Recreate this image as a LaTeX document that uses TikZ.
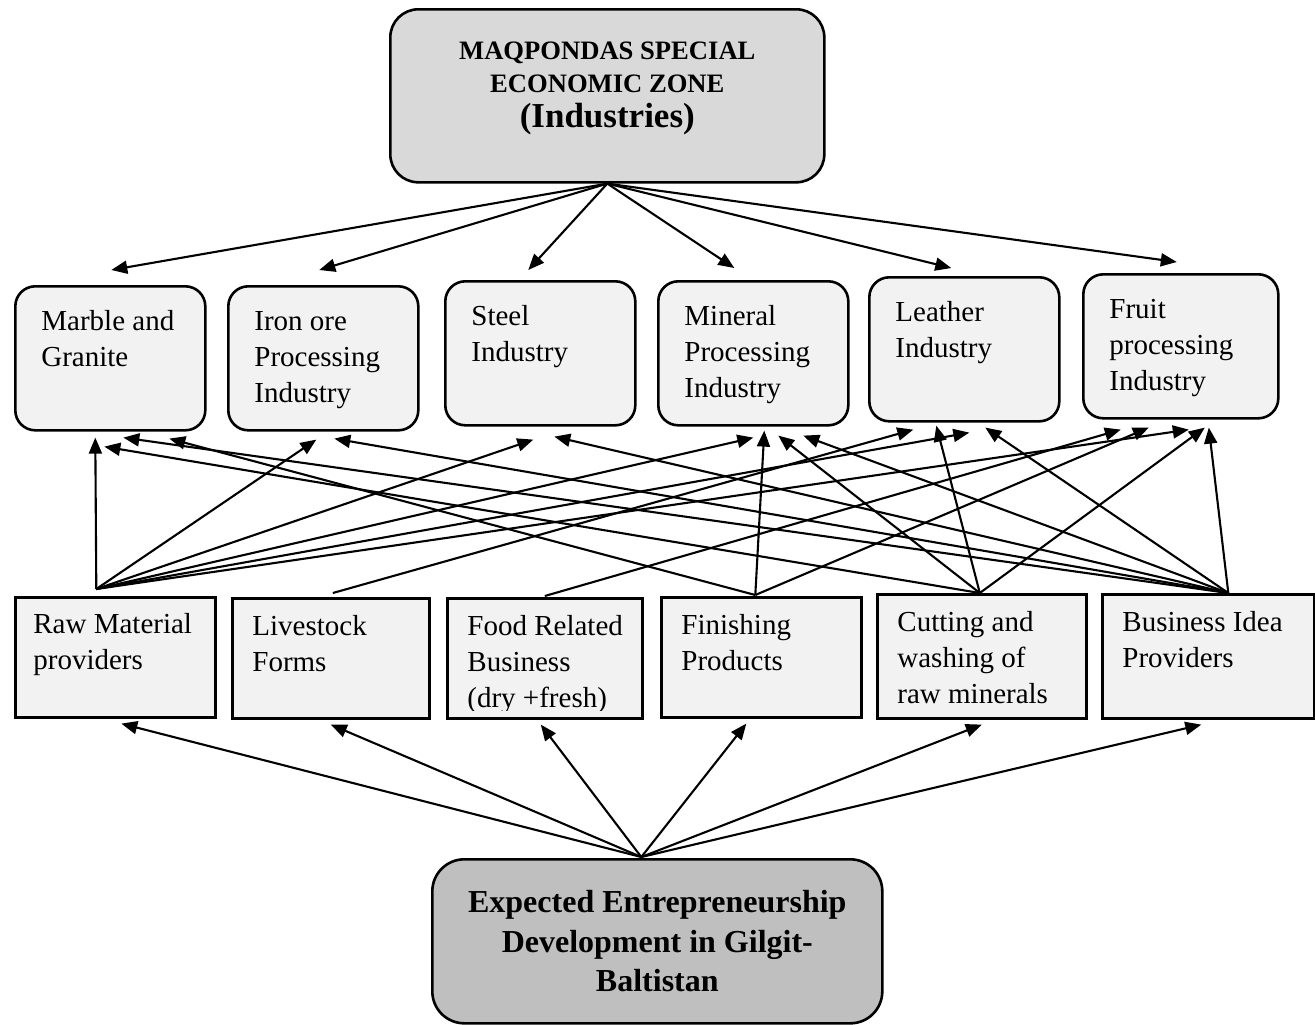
\documentclass[tikz,border=0pt]{standalone}
\usepackage{fontspec}
\setmainfont{Liberation Serif}
\usetikzlibrary{arrows.meta}

\tikzset{
  zone/.style={draw, line width=1.3pt, rounded corners=14pt, fill=black!15, anchor=north west, inner sep=0pt},
  industry/.style={draw, line width=1.3pt, rounded corners=10pt, fill=black!5, anchor=north west, inner sep=0pt, minimum width=95pt, minimum height=72pt},
  actor/.style={draw, line width=1.3pt, fill=black!5, anchor=north west, inner sep=0pt, minimum height=60pt},
  boxtxt/.style={anchor=north west, align=left, inner sep=0pt, font=\fontsize{14.5}{18}\selectfont},
  link/.style={line width=1.05pt, -{Triangle[length=8pt,width=6.5pt]}},
}

\begin{document}
\begin{tikzpicture}[x=0.5pt, y=-0.5pt]
    \useasboundingbox (0,0) rectangle (1315,1024);

    % zone on top
    \node[zone, minimum width=217pt, minimum height=86.5pt] (sez) at (389,8) {};
    \node[anchor=north, align=center, inner sep=0pt, font=\fontsize{13.3}{16.75}\selectfont\bfseries] (sez-txt)
        at ([yshift=-13.8pt]sez.north) {\strut MAQPONDAS SPECIAL\\ECONOMIC ZONE\\[0.6pt]{\fontsize{17.5}{18}\selectfont(Industries)}};

    % industries
    \node[industry] (marble) at (14,285) {};
    \node[industry] (iron) at (227,285) {};
    \node[industry] (steel) at (444,280) {};
    \node[industry] (mineral) at (657,280) {};
    \node[industry] (leather) at (868,276) {};
    \node[industry, minimum width=97.5pt] (fruit) at (1082,273) {};
    \foreach \n/\t in {marble/{Marble and\\Granite}, iron/{Iron ore\\Processing\\Industry}, steel/{Steel\\Industry},
                       mineral/{Mineral\\Processing\\Industry}, leather/{Leather\\Industry}, fruit/{Fruit\\processing\\Industry}} {
        \node[boxtxt] (\n-txt) at ([xshift=13.5pt,yshift=-9.9pt]\n.north west) {\strut\t};
    }

    % businesses
    \node[actor, minimum width=100pt] (rawmat) at (14,596) {};
    \node[actor, minimum width=98.5pt] (livestock) at (231,597) {};
    \node[actor, minimum width=97.5pt] (food) at (446,597) {};
    \node[actor, minimum width=100pt] (finish) at (660,596) {};
    \node[actor, minimum width=104.5pt, minimum height=62pt] (cutting) at (876,593) {};
    \node[actor, minimum width=106pt, minimum height=62pt] (bizidea) at (1101,593) {};
    \node[boxtxt] (rawmat-txt) at ([xshift=9.5pt,yshift=-6pt]rawmat.north west) {\strut Raw Material\\providers};
    \foreach \n/\t in {livestock/{Livestock\\Forms}, finish/{Finishing\\Products},
                       cutting/{Cutting and\\washing of\\raw minerals}, bizidea/{Business Idea\\Providers}} {
        \node[boxtxt] (\n-txt) at ([xshift=10.5pt,yshift=-6.3pt]\n.north west) {\strut\t};
    }
    \begin{scope}
        \clip ([yshift=4.5pt]food.south west) rectangle (food.north east);
        \node[boxtxt] (food-txt) at ([xshift=10.5pt,yshift=-6.3pt]food.north west) {\strut Food Related\\Business\\(dry +fresh)};
    \end{scope}

    % bottom box
    \node[zone, fill=black!25, rounded corners=16pt, minimum width=225pt, minimum height=82pt, align=center,
          font=\fontsize{16}{19.75}\selectfont\bfseries] (expect) at (431,858)
          {Expected Entrepreneurship\\Development in Gilgit-\\Baltistan};

    % zone -> industries
    \foreach \t/\dx/\dy in {marble/0.5/7.5, iron/-2/7.5, steel/-6/5, mineral/-9.5/6, leather/-6.5/4, fruit/-2/5.5}
        \draw[link] (sez.south) -- ([xshift=\dx pt,yshift=\dy pt]\t.north);

    % where the lines leave the businesses
    \coordinate (rawmat-o) at ([xshift=-9.5pt,yshift=3.5pt]rawmat.north);
    \coordinate (livestock-o) at ([xshift=1pt,yshift=2pt]livestock.north);
    \coordinate (food-o) at ([yshift=0.5pt]food.north);
    \coordinate (finish-o) at ([xshift=-3pt,yshift=0.5pt]finish.north);
    \coordinate (cutting-o) at ([xshift=-1pt]cutting.north);
    \coordinate (bizidea-o) at ([xshift=10pt]bizidea.north);

    % businesses -> industries
    \foreach \s/\t/\dx/\dy in {rawmat/marble/-7.5/-3, rawmat/iron/-3.5/-4, rawmat/steel/-3.5/-6.5,
                               rawmat/mineral/0/-5.5, rawmat/leather/2.5/-5, rawmat/fruit/4/-5,
                               livestock/leather/-25.5/-3.5, food/fruit/-30/-5,
                               finish/marble/29.5/-3.5, finish/mineral/5.5/-2, finish/fruit/-16/-4,
                               cutting/marble/-3/-7.5, cutting/mineral/12.5/-4.5, cutting/leather/-14/-1.5, cutting/fruit/12/-4,
                               bizidea/marble/6.5/-3, bizidea/iron/5.5/-3.5, bizidea/steel/7/-5,
                               bizidea/mineral/25/-4.5, bizidea/leather/10.5/-2.5, bizidea/fruit/14/-4}
        \draw[link] (\s-o) -- ([xshift=\dx pt,yshift=\dy pt]\t.south);

    % expected development -> businesses
    \coordinate (expect-o) at ([xshift=-8pt,yshift=0.5pt]expect.north);
    \foreach \t/\dx in {rawmat/3, livestock/0, food/-2, finish/-7.5, cutting/0, bizidea/-3.5}
        \draw[link] (expect-o) -- ([xshift=\dx pt,yshift=-2.5pt]\t.south);
\end{tikzpicture}
\end{document}
